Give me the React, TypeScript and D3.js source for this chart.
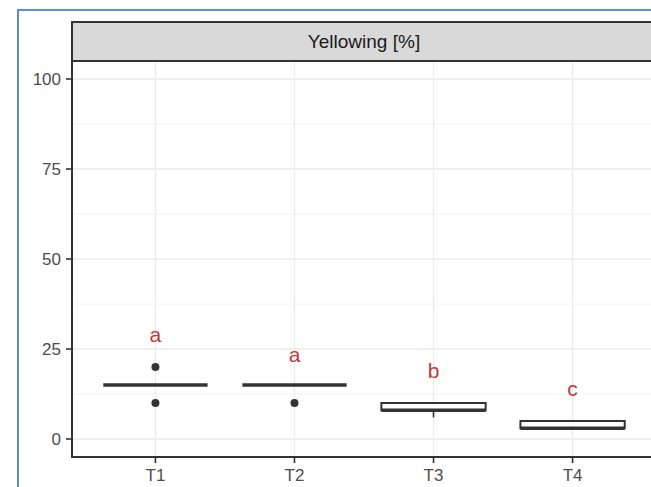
import React from "react";
import * as d3 from "d3";

// groups and box statistics
const groups = ["T1", "T2", "T3", "T4"];
const lowerWhisker = [15, 15, 6, 3];
const q1 = [15, 15, 8, 3];
const median = [15, 15, 8, 3];
const q3 = [15, 15, 10, 5];
const upperWhisker = [15, 15, 10, 5];
const outlierGroup = ["T1", "T1", "T2"];
const outlierValue = [10, 20, 10];
const letters = ["a", "a", "b", "c"];
const letterY = [27, 21.5, 17, 12];
const yTicks = [0, 25, 50, 75, 100];
const yMinor = [12.5, 37.5, 62.5, 87.5];
const stripTitle = "Yellowing [%]";

const W = 651, H = 487;
const panel = { left: 72, right: 656, top: 61, bottom: 457 };
const font = "'Liberation Sans', Arial, sans-serif";

export default function App() {
    const x = d3.scalePoint<string>()
        .domain(groups)
        .range([panel.left, panel.right])
        .padding(0.6);
    const y = d3.scaleLinear()
        .domain([-5, 105])
        .range([panel.bottom, panel.top]);
    const step = x.step();
    const boxW = step * 0.75;

    return (
        <svg width={W} height={H} style={{ position: "absolute", left: 0, top: 0 }}>
            <rect x={0} y={0} width={W} height={H} fill="#fff" />
            {/* screenshot frame */}
            <rect x={18} y={10} width={W} height={H} fill="none" stroke="#5b8cd7" strokeWidth={2} />

            {/* panel background and grid */}
            <rect x={panel.left} y={panel.top} width={panel.right - panel.left} height={panel.bottom - panel.top} fill="#fff" />
            {yMinor.map(v => (
                <line key={"mi" + v} x1={panel.left} x2={panel.right} y1={y(v)} y2={y(v)} stroke="#f4f4f4" strokeWidth={1} />
            ))}
            {yTicks.map(v => (
                <line key={"ma" + v} x1={panel.left} x2={panel.right} y1={y(v)} y2={y(v)} stroke="#ebebeb" strokeWidth={1.4} />
            ))}
            {groups.map(g => (
                <line key={"gx" + g} x1={x(g)} x2={x(g)} y1={panel.top} y2={panel.bottom} stroke="#ebebeb" strokeWidth={1.4} />
            ))}

            {/* boxes */}
            {groups.map((g, i) => {
                const cx = x(g)!;
                return (
                    <g key={"box" + g}>
                        <line x1={cx} x2={cx} y1={y(upperWhisker[i])} y2={y(q3[i])} stroke="#333" strokeWidth={1.6} />
                        <line x1={cx} x2={cx} y1={y(q1[i])} y2={y(lowerWhisker[i])} stroke="#333" strokeWidth={1.6} />
                        <rect x={cx - boxW / 2} y={y(q3[i])} width={boxW} height={y(q1[i]) - y(q3[i])}
                              fill="#fff" stroke="#333" strokeWidth={2} />
                        <line x1={cx - boxW / 2} x2={cx + boxW / 2} y1={y(median[i])} y2={y(median[i])}
                              stroke="#333" strokeWidth={3.5} />
                    </g>
                );
            })}
            {outlierValue.map((v, i) => (
                <circle key={"o" + i} cx={x(outlierGroup[i])} cy={y(v)} r={4} fill="#333" />
            ))}
            {groups.map((g, i) => (
                <text key={"l" + g} x={x(g)} y={y(letterY[i])} textAnchor="middle"
                      fontFamily={font} fontSize={21} fill="#c0393b">{letters[i]}</text>
            ))}

            {/* panel border and axes */}
            <rect x={panel.left} y={panel.top} width={panel.right - panel.left} height={panel.bottom - panel.top}
                  fill="none" stroke="#333" strokeWidth={2} />
            {yTicks.map(v => (
                <g key={"yt" + v}>
                    <line x1={panel.left - 6} x2={panel.left} y1={y(v)} y2={y(v)} stroke="#333" strokeWidth={1.6} />
                    <text x={panel.left - 11} y={y(v)} dy="0.36em" textAnchor="end"
                          fontFamily={font} fontSize={17} fill="#4d4d4d">{v}</text>
                </g>
            ))}
            {groups.map(g => (
                <g key={"xt" + g}>
                    <line x1={x(g)} x2={x(g)} y1={panel.bottom} y2={panel.bottom + 6} stroke="#333" strokeWidth={1.6} />
                    <text x={x(g)} y={panel.bottom + 24} textAnchor="middle"
                          fontFamily={font} fontSize={17} fill="#4d4d4d">{g}</text>
                </g>
            ))}

            {/* facet strip */}
            <rect x={panel.left} y={22} width={panel.right - panel.left} height={panel.top - 22}
                  fill="#d9d9d9" stroke="#333" strokeWidth={2} />
            <text x={(panel.left + panel.right) / 2} y={(22 + panel.top) / 2} dy="0.36em" textAnchor="middle"
                  fontFamily={font} fontSize={19} fill="#1a1a1a">{stripTitle}</text>
        </svg>
    );
}
